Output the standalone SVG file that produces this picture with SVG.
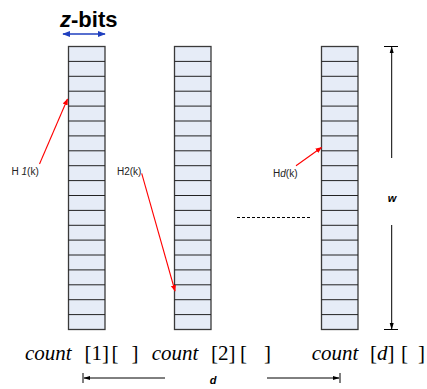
<svg xmlns="http://www.w3.org/2000/svg" width="427" height="389" viewBox="0 0 427 389">
<style>
.col{fill:#e6ecf7;stroke:#3a3a3a;stroke-width:1.3}
.row{stroke:#222;stroke-width:1}
.lbl{font-family:"Liberation Sans",Arial,sans-serif;font-size:10px;fill:#222}
.red{stroke:#ff0000;stroke-width:1.1;fill:none}
.dim{stroke:#000;stroke-width:1;fill:none}
.bi{font-family:"Liberation Sans",Arial,sans-serif;font-weight:bold;font-style:italic;font-size:11px;fill:#000}
.cnt{font-family:"Liberation Serif","Times New Roman","DejaVu Serif",serif;font-size:21px;fill:#000}
</style>
<defs>
<marker id="ar" viewBox="0 0 10 10" refX="9" refY="5" markerWidth="6" markerHeight="6" orient="auto"><path d="M0,1 L10,5 L0,9 z" fill="#ff0000"/></marker>
<marker id="ak" viewBox="0 0 10 10" refX="9" refY="5" markerWidth="7" markerHeight="7" orient="auto"><path d="M0,2 L10,5 L0,8 z" fill="#000"/></marker>
<marker id="ab" viewBox="0 0 10 10" refX="9" refY="5" markerWidth="5" markerHeight="5" orient="auto-start-reverse"><path d="M0,1 L10,5 L0,9 z" fill="#1f3fbf"/></marker>
<g id="cells">
<path class="row" d="M0,61.4H36.5M0,76.3H36.5M0,91.2H36.5M0,106.1H36.5M0,121H36.5M0,135.9H36.5M0,150.8H36.5M0,165.7H36.5M0,180.6H36.5M0,195.5H36.5M0,210.4H36.5M0,225.3H36.5M0,240.1H36.5M0,255H36.5M0,269.9H36.5M0,284.8H36.5M0,299.7H36.5M0,314.6H36.5"/>
</g>
</defs>
<g id="header">
<text x="60" y="27" font-family="'Liberation Sans', Arial, sans-serif" font-weight="bold" font-size="22" fill="#000"><tspan font-style="italic">z</tspan>-bits</text>
<line x1="63" y1="34" x2="105" y2="34" stroke="#1f3fbf" stroke-width="1.6" marker-start="url(#ab)" marker-end="url(#ab)"/>
</g>
<g id="count1">
<rect class="col" x="68.5" y="46.5" width="36.5" height="283"/>
<use href="#cells" x="68.5"/>
<text class="cnt" y="360"><tspan x="25" font-style="italic">count</tspan> <tspan x="84.5">[1]</tspan><tspan x="111.5">[ </tspan><tspan x="131.5">]</tspan></text>
</g>
<g id="count2">
<rect class="col" x="174.5" y="46.5" width="36.5" height="283"/>
<use href="#cells" x="174.5"/>
<text class="cnt" y="360"><tspan x="151.7" font-style="italic">count</tspan> <tspan x="211">[2]</tspan><tspan x="240">[ </tspan><tspan x="264">]</tspan></text>
</g>
<g id="countd">
<rect class="col" x="321.5" y="46.5" width="36.5" height="283"/>
<use href="#cells" x="321.5"/>
<text class="cnt" y="360"><tspan x="311.7" font-style="italic">count</tspan> <tspan x="370">[<tspan font-style="italic">d</tspan>]</tspan><tspan x="401">[ </tspan><tspan x="418">]</tspan></text>
</g>
<g id="labels">
<text class="lbl" x="11.5" y="175">H <tspan font-style="italic">1</tspan>(k)</text>
<text class="lbl" x="117" y="175">H2(k)</text>
<text class="lbl" x="273" y="177">H<tspan font-style="italic">d</tspan>(k)</text>
<text class="bi" x="392" y="202" text-anchor="middle">w</text>
<text class="bi" x="213" y="384" text-anchor="middle">d</text>
</g>
<g id="connectors">
<line class="red" x1="39.5" y1="164" x2="67.5" y2="99" marker-end="url(#ar)"/>
<line class="red" x1="141.7" y1="173.3" x2="175" y2="291" marker-end="url(#ar)"/>
<line class="red" x1="296" y1="165.7" x2="321.5" y2="147.5" marker-end="url(#ar)"/>
<line x1="237" y1="217.5" x2="312" y2="217.5" stroke="#000" stroke-width="1.2" stroke-dasharray="3,2"/>
<path class="dim" d="M384,46.5H398M384,329.5H398M83,373V383M340,373V383"/>
<line class="dim" x1="391.7" y1="158" x2="391.7" y2="47" marker-end="url(#ak)"/>
<line class="dim" x1="391.7" y1="225" x2="391.7" y2="329" marker-end="url(#ak)"/>
<line class="dim" x1="165" y1="378" x2="84" y2="378" marker-end="url(#ak)"/>
<line class="dim" x1="267" y1="378" x2="339" y2="378" marker-end="url(#ak)"/>
</g>
</svg>
